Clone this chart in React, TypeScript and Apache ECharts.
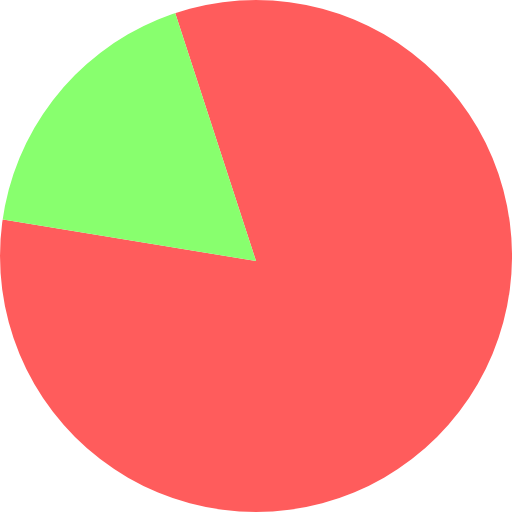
import React, { useEffect, useRef } from "react";
import * as echarts from "echarts";

const categories = ["Red", "Green"];
const values = [82.6, 17.4];
const colors = ["#FF5C5C", "#88FF6E"];

export default function App() {
  const ref = useRef<HTMLDivElement>(null);
  useEffect(() => {
    document.body.style.margin = "0";
    const chart = echarts.init(ref.current!, null, { renderer: "svg" });
    chart.setOption({
      animation: false,
      backgroundColor: "#ffffff",
      series: [
        {
          type: "pie",
          center: [256, 261],
          radius: [0, 285],
          startAngle: 108.05,
          clockwise: true,
          label: { show: false },
          labelLine: { show: false },
          itemStyle: { borderWidth: 0 },
          emphasis: { disabled: true },
          data: categories.map((name, i) => ({
            name,
            value: values[i],
            itemStyle: { color: colors[i] },
          })),
        },
        {
          type: "pie",
          center: [256, 256],
          radius: [256, 460],
          silent: true,
          label: { show: false },
          labelLine: { show: false },
          itemStyle: { borderWidth: 0, color: "#ffffff" },
          emphasis: { disabled: true },
          data: [{ name: "", value: 1 }],
        },
      ],
    });
    return () => chart.dispose();
  }, []);
  return <div ref={ref} style={{ width: 512, height: 512 }} />;
}
